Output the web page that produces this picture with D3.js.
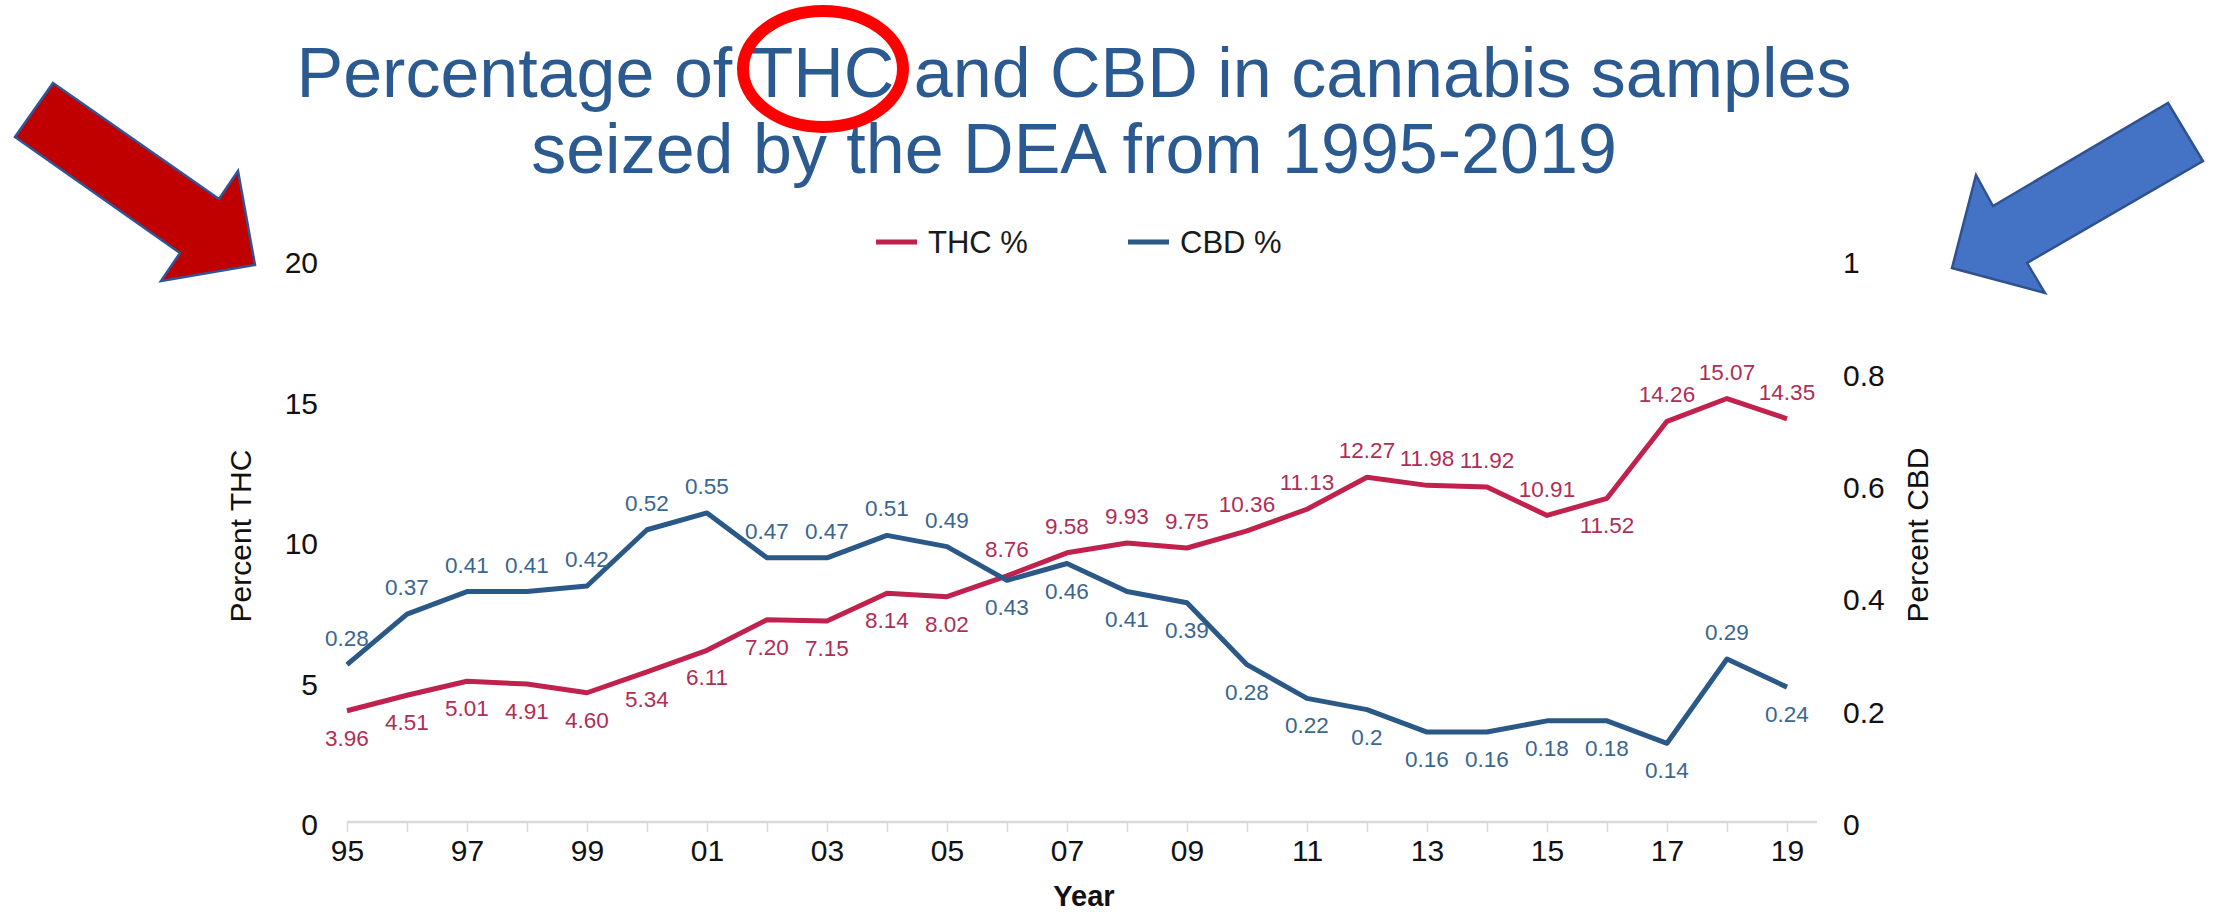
<!DOCTYPE html>
<html><head><meta charset="utf-8">
<script src="https://cdn.jsdelivr.net/npm/d3@7"></script>
<style>
html,body{margin:0;padding:0;background:#fff;}
svg{display:block;font-family:"Liberation Sans", Arial, sans-serif;}
</style></head><body>
<svg id="chart" width="2216" height="915"></svg>
<script>
// ---- data ----
const years = [1995,1996,1997,1998,1999,2000,2001,2002,2003,2004,2005,2006,2007,2008,2009,2010,2011,2012,2013,2014,2015,2016,2017,2018,2019];
const thcValues = [3.96,4.51,5.01,4.91,4.60,5.34,6.11,7.20,7.15,8.14,8.02,8.76,9.58,9.93,9.75,10.36,11.13,12.27,11.98,11.92,10.91,11.52,14.26,15.07,14.35];
const cbdValues = [0.28,0.37,0.41,0.41,0.42,0.52,0.55,0.47,0.47,0.51,0.49,0.43,0.46,0.41,0.39,0.28,0.22,0.2,0.16,0.16,0.18,0.18,0.14,0.29,0.24];
const thcLabelSide = ['b','b','b','b','b','b','b','b','b','b','b','a','a','a','a','a','a','a','a','a','a','b','a','a','a'];
const cbdLabelSide = ['a','a','a','a','a','a','a','a','a','a','a','b','b','b','b','b','b','b','b','b','b','b','b','a','b'];
const leftTicks = [0,5,10,15,20];
const rightTicks = [0,0.2,0.4,0.6,0.8,1];
const seriesNames = ['THC %','CBD %'];
const titleLines = ['Percentage of THC and CBD in cannabis samples','seized by the DEA from 1995-2019'];

// ---- style ----
const thcColor = '#C0214D', cbdColor = '#2B5987';
const thcLabelColor = '#B02D56', cbdLabelColor = '#3A6690';
const titleColor = '#2B5A91';

const svg = d3.select('#chart');
const x = d3.scaleLinear().domain([1995, 2019]).range([347, 1787]);
const yL = d3.scaleLinear().domain([0, 20]).range([822, 260]);
const yR = d3.scaleLinear().domain([0, 1]).range([822, 260]);

// title
svg.append('g').selectAll('text').data(titleLines).join('text')
  .attr('x', 1074).attr('y', (d,i) => 97 + i*76)
  .attr('text-anchor', 'middle').attr('font-size', 70)
  .attr('fill', titleColor).text(d => d);

// red ellipse around THC
svg.append('ellipse').attr('cx', 823).attr('cy', 69).attr('rx', 80).attr('ry', 58)
  .attr('fill', 'none').attr('stroke', '#FF0000').attr('stroke-width', 12);

// arrows
svg.append('polygon')
  .attr('points', '53,83 219,199 238,171 255,265 161,281 180,253 15,137')
  .attr('fill', '#C00000').attr('stroke', '#2F5597').attr('stroke-width', 2.5).attr('stroke-linejoin','miter');
svg.append('polygon')
  .attr('points', '2168,103 2203,161 2027,263 2045,293 1952,268 1976,175 1993,206')
  .attr('fill', '#4472C4').attr('stroke', '#2F528F').attr('stroke-width', 2.5);

// legend
const legend = svg.append('g');
const legItems = [{name: seriesNames[0], color: thcColor, x: 876}, {name: seriesNames[1], color: cbdColor, x: 1128}];
legItems.forEach(it => {
  legend.append('line').attr('x1', it.x).attr('x2', it.x + 41).attr('y1', 242).attr('y2', 242)
    .attr('stroke', it.color).attr('stroke-width', 5);
  legend.append('text').attr('x', it.x + 52).attr('y', 253).attr('font-size', 31)
    .attr('fill', '#1a1a1a').text(it.name);
});

// x axis
const xAxis = d3.axisBottom(x).tickValues(years).tickSize(10).tickPadding(8)
  .tickFormat(d => (d % 2 === 1) ? String(d).slice(2) : '');
const gx = svg.append('g').attr('transform', 'translate(0,822)').call(xAxis);
gx.select('.domain').remove();
gx.selectAll('.tick line').attr('stroke', '#d9d9d9').attr('stroke-width', 1.5);
gx.selectAll('.tick text').attr('font-size', 30).attr('fill', '#111').attr('font-family', '"Liberation Sans", Arial, sans-serif');
gx.append('line').attr('x1', x(1995)).attr('x2', x(2019.5)).attr('y1', 0).attr('y2', 0)
  .attr('stroke', '#d9d9d9').attr('stroke-width', 2.5);

// left axis
const gl = svg.append('g').attr('transform', 'translate(330,0)')
  .call(d3.axisLeft(yL).tickValues(leftTicks).tickSize(0).tickPadding(12));
gl.select('.domain').remove();
gl.selectAll('.tick text').attr('font-size', 30).attr('fill', '#111').attr('dy', '0.42em').attr('font-family', '"Liberation Sans", Arial, sans-serif');

// right axis
const gr = svg.append('g').attr('transform', 'translate(1831,0)')
  .call(d3.axisRight(yR).tickValues(rightTicks).tickSize(0).tickPadding(12).tickFormat(d => String(d)));
gr.select('.domain').remove();
gr.selectAll('.tick text').attr('font-size', 30).attr('fill', '#111').attr('dy', '0.42em').attr('font-family', '"Liberation Sans", Arial, sans-serif');

// axis titles
svg.append('text').attr('transform', 'translate(251,536) rotate(-90)')
  .attr('text-anchor', 'middle').attr('font-size', 30).attr('fill', '#111').text('Percent THC');
svg.append('text').attr('transform', 'translate(1928,535) rotate(-90)')
  .attr('text-anchor', 'middle').attr('font-size', 30).attr('fill', '#111').text('Percent CBD');
svg.append('text').attr('x', 1084).attr('y', 906).attr('text-anchor', 'middle')
  .attr('font-size', 29).attr('font-weight', 'bold').attr('fill', '#111').text('Year');

// lines
const lineL = d3.line().x((d,i) => x(years[i])).y(d => yL(d));
const lineR = d3.line().x((d,i) => x(years[i])).y(d => yR(d));
svg.append('path').datum(thcValues).attr('d', lineL).attr('fill', 'none')
  .attr('stroke', thcColor).attr('stroke-width', 5).attr('stroke-linejoin', 'round');
svg.append('path').datum(cbdValues).attr('d', lineR).attr('fill', 'none')
  .attr('stroke', cbdColor).attr('stroke-width', 5).attr('stroke-linejoin', 'round');

// data labels
const off = 27;
svg.append('g').selectAll('text').data(thcValues).join('text')
  .attr('x', (d,i) => x(years[i]))
  .attr('y', (d,i) => yL(d) + (thcLabelSide[i] === 'a' ? -off : off))
  .attr('dy', '0.36em').attr('text-anchor', 'middle').attr('font-size', 22.5)
  .attr('fill', thcLabelColor).text(d => d.toFixed(2));
svg.append('g').selectAll('text').data(cbdValues).join('text')
  .attr('x', (d,i) => x(years[i]))
  .attr('y', (d,i) => yR(d) + (cbdLabelSide[i] === 'a' ? -off : off))
  .attr('dy', '0.36em').attr('text-anchor', 'middle').attr('font-size', 22.5)
  .attr('fill', cbdLabelColor).text(d => String(d));
</script>
</body></html>
